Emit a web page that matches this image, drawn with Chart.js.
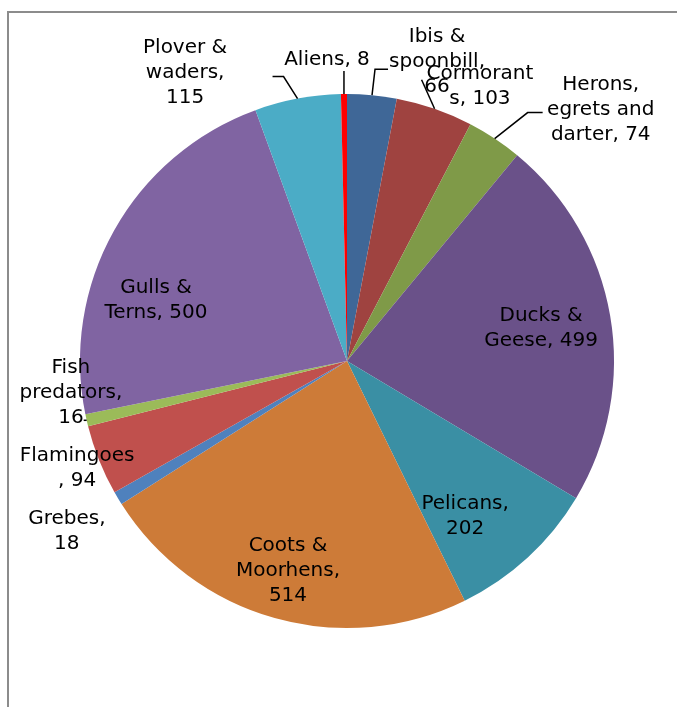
<!DOCTYPE html>
<html>
<head>
<meta charset="utf-8">
<script src="https://cdn.jsdelivr.net/npm/chart.js@4.4.1/dist/chart.umd.min.js"></script>
<style>
  html, body { margin: 0; padding: 0; background: #fff; overflow: hidden; }
  #frame { position: absolute; left: 7px; top: 11px; width: 720px; height: 740px; border: 2px solid #8c8c8c; }
  #chart { position: absolute; left: 0; top: 0; }
</style>
</head>
<body>
<div id="frame"></div>
<canvas id="chart" width="677" height="707"></canvas>
<script>
// Waterbird counts by group
const categories = ['Ibis & spoonbill', 'Cormorants', 'Herons, egrets and darter', 'Ducks & Geese',
  'Pelicans', 'Coots & Moorhens', 'Grebes', 'Flamingoes', 'Fish predators', 'Gulls & Terns',
  'Plover & waders', 'Aliens'];
const counts = [66, 103, 74, 499, 202, 514, 18, 94, 16, 500, 115, 8];
const sliceColors = ['#3f6797', '#9f4340', '#7f9a48', '#6a5189', '#3a8fa4', '#cd7b38',
  '#4f81bd', '#c0504d', '#9bbb59', '#8064a2', '#4bacc6', '#ff0000'];

// how each data label wraps; {v} gets the count
const labelLines = [
  ['Ibis &', 'spoonbill,', '{v}'],
  ['Cormorant', 's, {v}'],
  ['Herons,', 'egrets and', 'darter, {v}'],
  ['Ducks &', 'Geese, {v}'],
  ['Pelicans,', '{v}'],
  ['Coots &', 'Moorhens,', '{v}'],
  ['Grebes,', '{v}'],
  ['Flamingoes', ', {v}'],
  ['Fish', 'predators,', '{v}'],
  ['Gulls &', 'Terns, {v}'],
  ['Plover &', 'waders,', '{v}'],
  ['Aliens, {v}']
];

// label centre: [degrees clockwise from top, fraction of radius]
const labelPlace = [
  [16.75, 1.170], [25.8, 1.144], [45.3, 1.337], [80.35, 0.737], [142.7, 0.730], [195.7, 0.817],
  [238.7, 1.228], [248.3, 1.088], [263.4, 1.041], [287.7, 0.751], [330.7, 1.239], [356.2, 1.130]
];
// leader lines from slice edge: [dx, dy, horizontal tail]
const leaders = [
  [3, -26, 13], [-13, -29, 0], [33, -26, 15], null, null, null,
  null, null, [-3, 0, 0], null, [-14, -22, -11], [0, -23, 0]
];
const lineH = 25;

const labelPlugin = {
  id: 'sliceLabels',
  afterDatasetsDraw(chart) {
    const ctx = chart.ctx;
    const arcs = chart.getDatasetMeta(0).data;
    ctx.save();
    ctx.font = '20px "DejaVu Sans"';
    ctx.fillStyle = '#000';
    ctx.strokeStyle = '#000';
    ctx.lineWidth = 1.5;
    ctx.textAlign = 'center';
    ctx.textBaseline = 'middle';
    arcs.forEach((arc, i) => {
      const {x, y, startAngle, endAngle, outerRadius} =
        arc.getProps(['x', 'y', 'startAngle', 'endAngle', 'outerRadius'], true);
      const mid = (startAngle + endAngle) / 2;
      const lead = leaders[i];
      if (lead) {
        const ex = x + outerRadius * Math.cos(mid);
        const ey = y + outerRadius * Math.sin(mid);
        ctx.beginPath();
        ctx.moveTo(ex, ey);
        ctx.lineTo(ex + lead[0], ey + lead[1]);
        if (lead[2]) ctx.lineTo(ex + lead[0] + lead[2], ey + lead[1]);
        ctx.stroke();
      }
      const a = (labelPlace[i][0] - 90) * Math.PI / 180;
      const r = labelPlace[i][1] * outerRadius;
      const cx = x + r * Math.cos(a);
      const cy = y + r * Math.sin(a);
      const lines = labelLines[i].map(s => s.replace('{v}', counts[i]));
      const top = cy - (lines.length - 1) * lineH / 2;
      lines.forEach((s, k) => ctx.fillText(s, cx, top + k * lineH));
    });
    ctx.restore();
  }
};

new Chart(document.getElementById('chart'), {
  type: 'pie',
  data: {
    labels: categories,
    datasets: [{
      data: counts,
      backgroundColor: sliceColors,
      borderWidth: 0
    }]
  },
  options: {
    responsive: false,
    animation: false,
    events: [],
    layout: { padding: { left: 80, right: 63, top: 94, bottom: 79 } },
    plugins: {
      legend: { display: false },
      tooltip: { enabled: false }
    }
  },
  plugins: [labelPlugin]
});
</script>
</body>
</html>
